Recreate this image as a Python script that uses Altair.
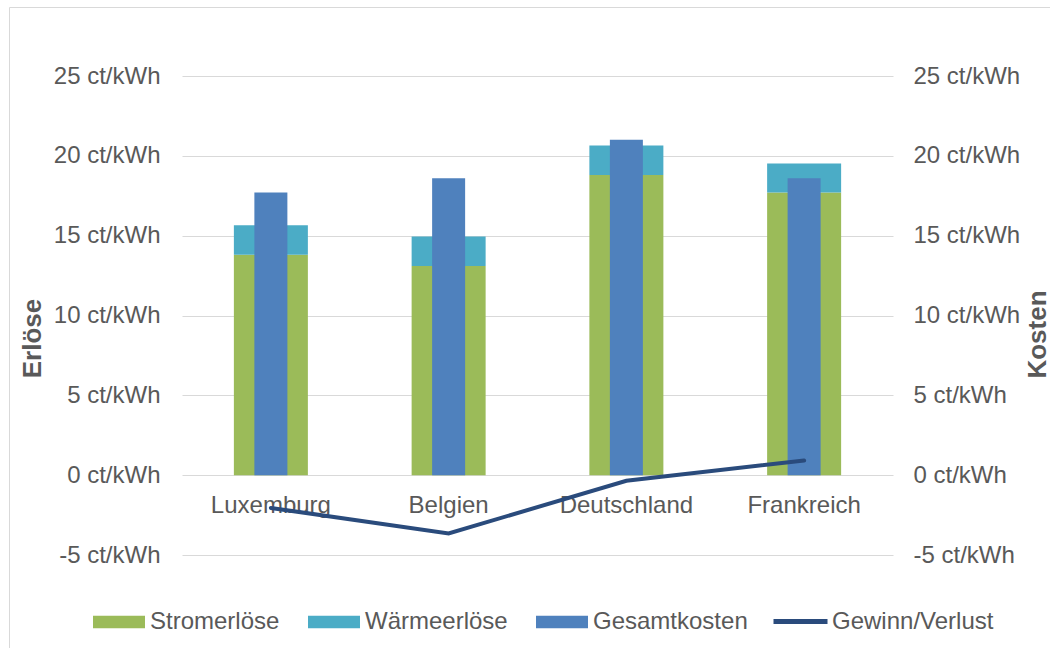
import altair as alt
import pandas as pd

# Values in ct/kWh per country
laender = ["Luxemburg", "Belgien", "Deutschland", "Frankreich"]
stromerloese = [13.8, 13.1, 18.8, 17.7]
waermeerloese = [1.85, 1.85, 1.85, 1.82]
gesamtkosten = [17.7, 18.6, 21.0, 18.6]
gewinn_verlust = [-2.05, -3.65, -0.35, 0.92]

serien_balken = ["Stromerlöse", "Wärmeerlöse", "Gesamtkosten"]
farben_balken = ["#9BBB59", "#4BACC6", "#4F81BD"]
serie_linie = "Gewinn/Verlust"
farbe_linie = "#2A4B7C"
tick_werte = [-5, 0, 5, 10, 15, 20, 25]

TEXT = "#595959"
GRID = "#D9D9D9"
FONT = "Liberation Sans"

erloese = pd.DataFrame({
    "Land": laender * 2,
    "Serie": ["Stromerlöse"] * len(laender) + ["Wärmeerlöse"] * len(laender),
    "Rang": [0] * len(laender) + [1] * len(laender),
    "Wert": stromerloese + waermeerloese,
})
kosten = pd.DataFrame({"Land": laender, "Serie": "Gesamtkosten", "Wert": gesamtkosten})
gewinn = pd.DataFrame({"Land": laender, "Serie": serie_linie, "Wert": gewinn_verlust})

y_scale = alt.Scale(domain=[-5, 25], nice=False, zero=False)
x_scale = alt.Scale(paddingInner=0, paddingOuter=0)

x_axis = alt.Axis(
    title=None, orient="bottom", offset=-80, domain=False, ticks=False,
    tickSize=0, labelPadding=18, labelAngle=0, labelFontSize=24,
    labelColor=TEXT, labelFont=FONT,
)

farbe = alt.Scale(domain=serien_balken, range=farben_balken)
balken_legende = alt.Legend(
    title=None, orient="none", legendX=-89, legendY=520,
    direction="horizontal", columns=3, columnPadding=28,
    symbolType="M-1,-0.244H1V0.244H-1Z", symbolSize=2704,
    symbolStrokeWidth=0, labelFontSize=24, labelColor=TEXT, labelFont=FONT,
    labelOffset=5, padding=0, labelLimit=0,
)

achse_links = alt.Axis(
    title="Erlöse", values=tick_werte, labelExpr="datum.value + ' ct/kWh'",
    grid=True, gridColor=GRID, gridWidth=1, domain=False, ticks=False,
    tickSize=0, labelPadding=22, labelFontSize=24, labelColor=TEXT,
    labelFont=FONT, titleFontSize=26, titleFontWeight="bold",
    titleColor=TEXT, titleFont=FONT, titleAngle=270,
    titleBaseline="alphabetic", titleAlign="center", titleX=-142, titleY=262,
)
achse_rechts = alt.Axis(
    title="Kosten", orient="right", values=tick_werte,
    labelExpr="datum.value + ' ct/kWh'", grid=False, domain=False,
    ticks=False, tickSize=0, labelPadding=20, labelFontSize=24,
    labelColor=TEXT, labelFont=FONT, titleFontSize=26,
    titleFontWeight="bold", titleColor=TEXT, titleFont=FONT, titleAngle=270,
    titleBaseline="alphabetic", titleAlign="center", titleX=152, titleY=258,
)

# Stacked revenue bars (electricity + heat)
erloes_balken = alt.Chart(erloese).mark_bar(size=74).encode(
    x=alt.X("Land:N", sort=laender, scale=x_scale, axis=x_axis),
    y=alt.Y("Wert:Q", stack="zero", scale=y_scale, axis=achse_links),
    color=alt.Color("Serie:N", scale=farbe, legend=balken_legende),
    order=alt.Order("Rang:Q"),
)

# Narrow total cost bars on the secondary axis
kosten_balken = alt.Chart(kosten).mark_bar(size=33).encode(
    x=alt.X("Land:N", sort=laender, scale=x_scale, axis=x_axis),
    y=alt.Y("Wert:Q", scale=y_scale, axis=achse_rechts),
    color=alt.Color("Serie:N", scale=farbe, legend=balken_legende),
)

# Profit / loss line
linie = alt.Chart(gewinn).mark_line(strokeWidth=4, strokeCap="round", strokeJoin="miter").encode(
    x=alt.X("Land:N", sort=laender, scale=x_scale, axis=x_axis, bandPosition=0.5),
    y=alt.Y("Wert:Q", scale=y_scale, axis=None),
    stroke=alt.Stroke(
        "Serie:N",
        scale=alt.Scale(domain=[serie_linie], range=[farbe_linie]),
        legend=alt.Legend(
            title=None, orient="none", legendX=589, legendY=516,
            symbolType="stroke", symbolSize=2916, symbolStrokeWidth=5,
            labelFontSize=24, labelColor=TEXT, labelFont=FONT,
            labelOffset=2, padding=0, labelLimit=0,
        ),
    ),
)

# Thin chart frame
rahmen = alt.Chart(pd.DataFrame({"r": [0]})).mark_rect(
    filled=False, stroke=GRID, strokeWidth=1
).encode(
    x=alt.value(-172.5), x2=alt.value(1000),
    y=alt.value(-68.5), y2=alt.value(700),
)

chart = alt.layer(rahmen, erloes_balken, kosten_balken, linie).resolve_scale(
    y="independent"
).properties(
    width=711, height=479,
    autosize=alt.AutoSizeParams(type="none"),
    padding={"left": 182, "top": 76, "right": 157, "bottom": 93},
    background="white",
).configure(font=FONT).configure_view(stroke=None)

chart.save("out.html", embed_options={"renderer": "svg", "actions": False})
